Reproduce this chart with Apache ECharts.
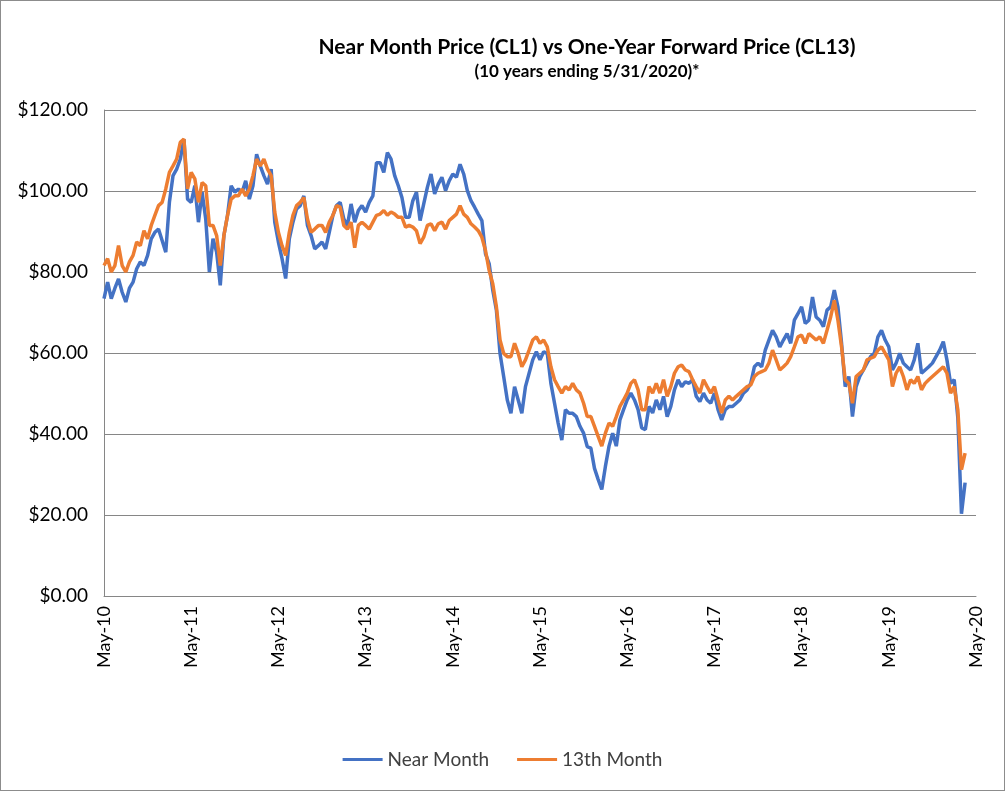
<!DOCTYPE html>
<html>
<head>
<meta charset="utf-8">
<script src="https://cdn.jsdelivr.net/npm/echarts@6/dist/echarts.min.js"></script>
<style>
html,body{margin:0;padding:0;background:#fff;}
#chart{width:1005px;height:791px;box-sizing:border-box;border:1px solid #8c8c8c;}
</style>
</head>
<body>
<div id="chart"></div>
<script>
// Tick labels shown on the x axis (one per year)
var tickLabels = ["May-10","May-11","May-12","May-13","May-14","May-15","May-16","May-17","May-18","May-19","May-20"];

// Near Month (CL1), semi-monthly readings from May-10
var nearMonth = [
73.4,77.5,73.4,76,78.3,75,72.6,76,77.5,80.8,82.5,81.6,84.1,88.2,89.8,90.6,87.8,84.9,97.2,103.8,
105.4,107.9,112.8,98,97.2,101.3,92.3,99.7,93.1,80,88.2,84.9,76.7,89,94,101.3,99.7,100.5,99.7,102.5,
98,101.3,109.1,106.2,103.8,101.7,105.4,92.3,87.4,83.3,78.4,88.2,92.3,95.6,96.4,98.8,91.5,89,85.7,86.5,
87.4,85.7,89.8,94,96.4,97.2,93.1,91.5,96.8,92.3,95.2,96.4,94.8,97.2,98.8,107,107,104.6,109.5,107.9,
103.8,101.3,98.4,93.5,93.5,97.6,99.7,92.7,96.8,100.9,104.2,99.3,101.7,103.4,100.1,102.5,104.2,103.4,106.6,104.2,
100.1,97.6,96,94.3,92.7,84.5,82.1,75.5,70.6,59.9,54.2,48.4,45.1,51.7,48.4,45.1,51.7,55,58.3,60.3,
58.3,60.3,59.9,52.5,47.6,42.7,38.5,46,45.1,45.1,44.3,41.9,40.2,36.9,36.5,31.5,28.8,26.3,32,37,
40.2,37,43.5,46,48.4,50.1,48.4,46,41.5,41.1,46.8,45.2,48.4,46,49.3,44.3,46.8,50.9,53.4,51.7,
52.9,52.5,53.4,49.3,48,50.1,48.4,47.6,50.1,46,43.5,46,46.8,46.8,47.6,48.4,50.1,50.9,52.5,56.6,
57.5,56.6,60.7,63.2,65.6,64,61.5,63.2,64.8,62.4,68.1,69.7,71.4,67.3,68.1,73.8,68.9,68.1,66.5,70.6,
71.4,75.5,71.4,62.4,51.7,54.2,44.3,51.7,54.2,55.8,57.5,59.1,59.9,64,65.6,63.2,61.5,55.8,57.5,59.9,
57.5,56.6,55.8,58.3,62.4,55,55.8,56.6,57.5,59.1,60.7,62.8,58.3,52.5,53.4,44,20.3,28,null,null,null
];

// 13th Month (CL13), semi-monthly readings from May-10
var thirteenthMonth = [
81.6,83.3,80,81.6,86.5,81.6,80,82.5,84.1,87.4,86.5,90.2,88.2,91.5,94,96.4,97.2,100.5,104.6,106.2,
107.9,112,112.8,100.5,104.6,103,97.2,102.1,101.3,91.5,91.5,89,81.6,89,94,98,98.8,98.8,100.5,98.8,
100.5,103.8,107.9,106.2,107.9,105.4,103.8,94.8,89.8,86.5,84.1,89.8,94,96.4,97.2,98.4,93.1,89.8,90.6,91.5,
91.5,89.8,92.3,94,96.4,96,91.5,90.6,92.3,86,91.5,92.3,91.5,90.6,92.3,94,94.3,95.2,94,94.8,
94.3,93.5,93.5,91.1,91.5,91.1,90.2,87,88.6,91.5,91.9,90.2,91.9,92.3,90.6,92.7,93.5,94.3,96.4,94.3,
93.5,91.9,91.1,90.2,88.6,85.3,80.4,77.1,71.4,63.2,59.9,59.1,59.1,62.4,59.9,56.6,58.3,60.7,63.2,64,
62.4,63.2,61.5,56.6,53.4,51.7,50.1,51.7,50.9,52.5,50.9,50.1,47.6,44.3,44.3,41.9,39.4,37,40.2,42.7,
41.9,44.3,46.8,48.4,50.1,52.5,53.4,50.9,46,46,51.7,50.1,52.5,50.1,53.4,49.3,51.7,55,56.6,57,
55.8,55.4,53.4,51.7,50.1,53.4,51.7,50.1,51.7,48.4,45.2,48.4,49.3,48.4,49.3,50.1,50.9,51.7,52.1,54.2,
55,55.4,55.8,57.5,60.7,58.3,55.8,56.6,57.5,59.1,61.5,64,64.4,62.4,64.8,64,63.2,64,62.4,65.6,
68.9,73,68.1,61.5,53.4,52.5,47.6,54.2,55,55.8,58.3,58.7,59.1,60.7,61.5,59.9,58.3,51.7,55,56.6,
54.2,50.9,53.4,52.5,54.2,50.9,52.5,53.4,54.2,55,55.8,56.6,55,50.1,51.7,46,31.2,35.3,null,null,null
];

// Category axis: one slot per half month, May-10 .. May-20
var categories = [];
for (var k = 0; k < nearMonth.length; k++) { categories.push('p' + k); }

var chart = echarts.init(document.getElementById('chart'), null, {renderer: 'canvas'});
var fontFam = 'Lato, "Open Sans", sans-serif';
chart.setOption({
  animation: false,
  backgroundColor: '#ffffff',
  title: {
    text: 'Near Month Price (CL1) vs One-Year Forward Price (CL13)',
    subtext: '(10 years ending 5/31/2020)*',
    left: 581, top: 31, textAlign: 'center',
    itemGap: 5,
    textStyle: {fontFamily: fontFam, fontWeight: 'bold', fontSize: 21, color: '#000'},
    subtextStyle: {fontFamily: fontFam, fontWeight: 'bold', fontSize: 17, color: '#000'}
  },
  legend: {
    bottom: 16, left: 'center',
    icon: 'rect', itemWidth: 40, itemHeight: 3, itemGap: 28,
    textStyle: {fontFamily: fontFam, fontSize: 19, color: '#404040'},
    data: ['Near Month', '13th Month']
  },
  grid: {left: 103, right: 28, top: 109, bottom: 194, containLabel: false},
  xAxis: {
    type: 'category', data: categories, boundaryGap: false,
    axisLine: {lineStyle: {color: '#868686', width: 1}},
    axisTick: {show: false},
    splitLine: {show: false},
    axisLabel: {
      interval: 23, rotate: 90, margin: 10,
      fontFamily: fontFam, fontSize: 18, color: '#000',
      formatter: function (v, idx) { return tickLabels[Math.round(idx / 24)]; }
    }
  },
  yAxis: {
    type: 'value', min: 0, max: 120, interval: 20,
    axisLine: {show: true, lineStyle: {color: '#868686', width: 1}},
    axisTick: {show: false},
    splitLine: {lineStyle: {color: '#868686', width: 1}},
    axisLabel: {
      margin: 16, fontFamily: fontFam, fontSize: 19, color: '#000',
      formatter: function (v) { return '$' + v.toFixed(2); }
    }
  },
  series: [
    {name: 'Near Month', type: 'line', data: nearMonth, showSymbol: false, symbol: 'none',
     lineStyle: {color: '#4472C4', width: 3.5}, itemStyle: {color: '#4472C4'}, z: 2},
    {name: '13th Month', type: 'line', data: thirteenthMonth, showSymbol: false, symbol: 'none',
     lineStyle: {color: '#ED7D31', width: 3.5}, itemStyle: {color: '#ED7D31'}, z: 3}
  ]
});
</script>
</body>
</html>
